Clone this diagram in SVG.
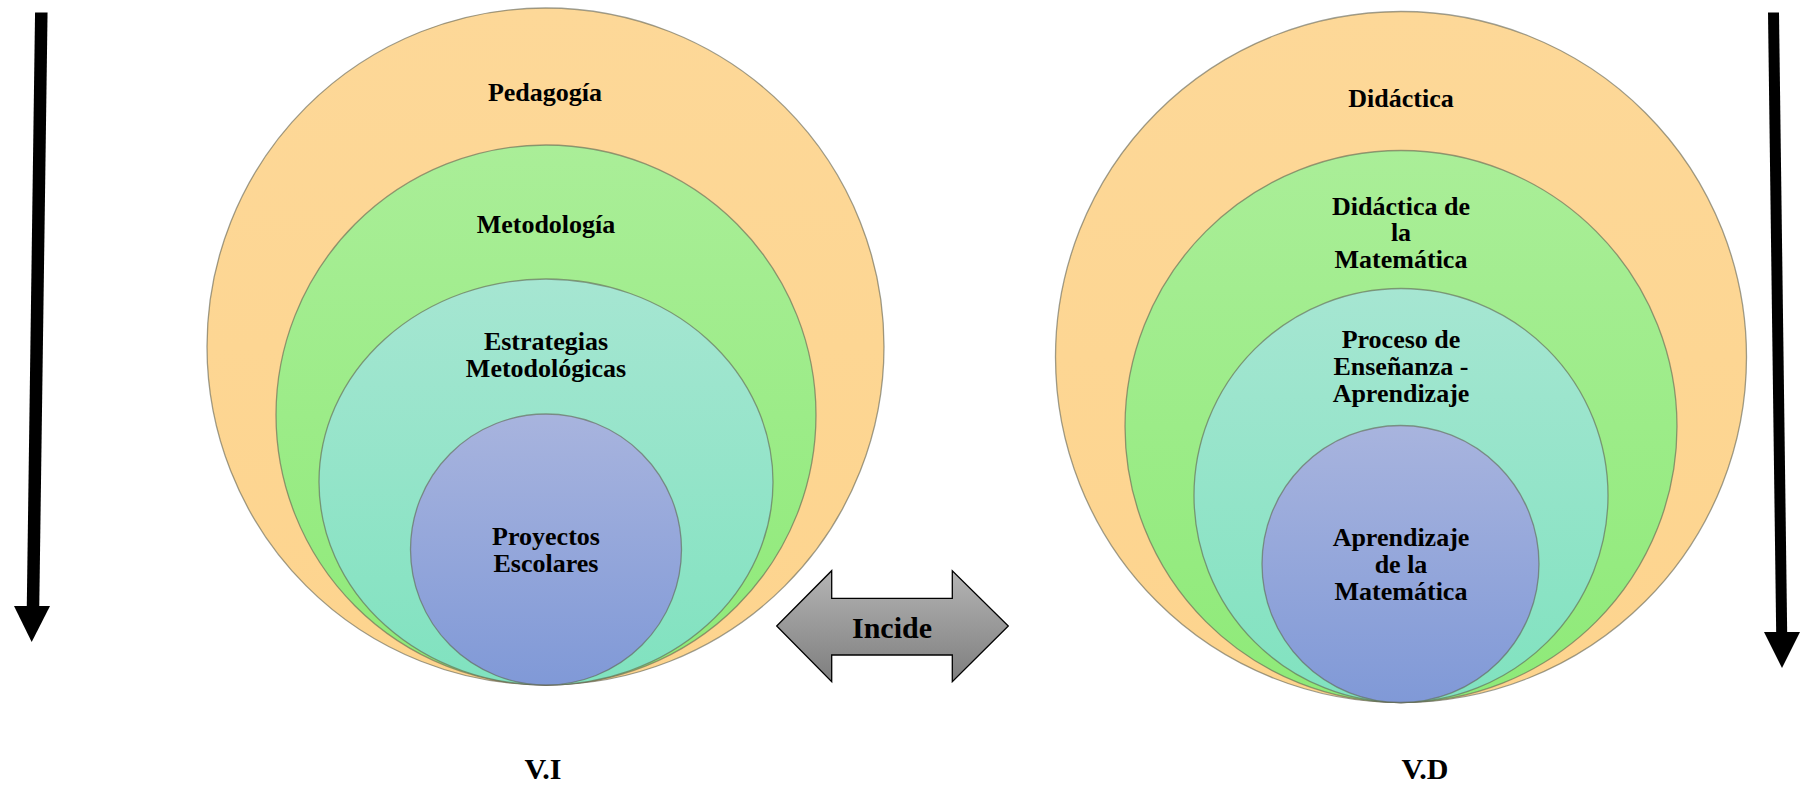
<svg xmlns="http://www.w3.org/2000/svg" width="1804" height="787" viewBox="0 0 1804 787">
<style>
.lbl{font-family:"Liberation Serif","Times New Roman",serif;font-weight:bold;font-size:26px;fill:#000;text-anchor:middle}
.big{font-size:30px}
.ring{stroke:#5f6050;stroke-opacity:.6;stroke-width:1.3}
</style>
<defs>
<linearGradient id="gO" x1="0" y1="0" x2="0" y2="1"><stop offset="0" stop-color="#FDD898"/><stop offset="1" stop-color="#FDD48E"/></linearGradient>
<linearGradient id="gG" x1="0" y1="0" x2="0" y2="1"><stop offset="0" stop-color="#AAEE98"/><stop offset="1" stop-color="#8EEA78"/></linearGradient>
<linearGradient id="gT" x1="0" y1="0" x2="0" y2="1"><stop offset="0" stop-color="#A6E6D2"/><stop offset="1" stop-color="#80E2BF"/></linearGradient>
<linearGradient id="gB" x1="0" y1="0" x2="0" y2="1"><stop offset="0" stop-color="#A8B4DE"/><stop offset="1" stop-color="#8099D7"/></linearGradient>
<linearGradient id="gA" x1="0" y1="0" x2="0" y2="1"><stop offset="0" stop-color="#B4B4B4"/><stop offset="1" stop-color="#7E7E7E"/></linearGradient>
</defs>

<g id="pedagogia">
<circle class="ring" cx="545.5" cy="346.5" r="338.5" fill="url(#gO)"/>
<text class="lbl" x="545" y="101">Pedagogía</text>
</g>
<g id="metodologia">
<circle class="ring" cx="546" cy="415" r="270" fill="url(#gG)"/>
<text class="lbl" x="546" y="233">Metodología</text>
</g>
<g id="estrategias">
<ellipse class="ring" cx="546" cy="482" rx="227" ry="203" fill="url(#gT)"/>
<text class="lbl" x="546" y="350">Estrategias</text>
<text class="lbl" x="546" y="377">Metodológicas</text>
</g>
<g id="proyectos">
<circle class="ring" cx="546" cy="549.5" r="135.5" fill="url(#gB)"/>
<text class="lbl" x="546" y="545">Proyectos</text>
<text class="lbl" x="546" y="572">Escolares</text>
</g>

<g id="didactica">
<circle class="ring" cx="1401" cy="357" r="345.5" fill="url(#gO)"/>
<text class="lbl" x="1401" y="106.5">Didáctica</text>
</g>
<g id="didactica-mat">
<circle class="ring" cx="1401" cy="426.5" r="276" fill="url(#gG)"/>
<text class="lbl" x="1401" y="214.5">Didáctica de</text>
<text class="lbl" x="1401" y="241">la</text>
<text class="lbl" x="1401" y="268">Matemática</text>
</g>
<g id="proceso">
<circle class="ring" cx="1401" cy="495.5" r="207" fill="url(#gT)"/>
<text class="lbl" x="1401" y="347.5">Proceso de</text>
<text class="lbl" x="1401" y="374.5">Enseñanza -</text>
<text class="lbl" x="1401" y="401.5">Aprendizaje</text>
</g>
<g id="aprendizaje">
<circle class="ring" cx="1400.5" cy="564" r="138.5" fill="url(#gB)"/>
<text class="lbl" x="1401" y="545.5">Aprendizaje</text>
<text class="lbl" x="1401" y="572.5">de la</text>
<text class="lbl" x="1401" y="600">Matemática</text>
</g>

<g id="incide">
<polygon points="776.7,626 831.7,570.7 831.7,598.3 952.3,598.3 952.3,570.7 1008.3,626 952.3,681.7 952.3,655 831.7,655 831.7,681.7" fill="url(#gA)" stroke="#000" stroke-width="1.3"/>
<text class="lbl big" x="892" y="638">Incide</text>
</g>

<g id="connectors">
<line x1="41.3" y1="12.5" x2="33" y2="608" stroke="#000" stroke-width="12.5"/>
<polygon points="14,606 50,606 31.7,642" fill="#000"/>
<line x1="1773.5" y1="12.5" x2="1781.7" y2="634" stroke="#000" stroke-width="11"/>
<polygon points="1764,632 1800,632 1782,668" fill="#000"/>
</g>

<g id="labels">
<text class="lbl big" x="543" y="779">V.I</text>
<text class="lbl big" x="1425" y="779">V.D</text>
</g>
</svg>
